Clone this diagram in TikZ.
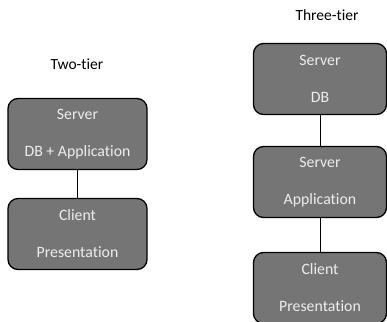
\documentclass[tikz,border=0pt]{standalone}
\usepackage{fontspec}
\setmainfont{Carlito}[Ligatures=CommonOff]
\usepackage{tikz}
\usetikzlibrary{positioning}

\begin{document}
\begin{tikzpicture}
	[x=1pt,y=-1pt,
	tier/.style={draw=black,line width=1.3pt,fill=black!54,rounded corners=10pt,
		text=white!93!black,align=center,inner sep=0pt,
		font=\fontsize{15.8}{37}\selectfont},
	title/.style={font=\fontsize{15.5}{18}\selectfont}]
	\useasboundingbox (0,0) rectangle (387,321);
	\clip (0,0) rectangle (387,321);
	% two-tier
	\node[title] (two) at (77,64) {Two-tier};
	\node[tier,minimum width=139pt,minimum height=71pt] (srv2) at (77.5,134) {Server\\DB + Application};
	\node[tier,minimum width=139pt,minimum height=71pt] (cli2) at (77.5,234) {Client\\Presentation};
	% three-tier
	\node[title] (three) at (327,15) {Three-tier};
	\node[tier,minimum width=133pt,minimum height=71pt] (db3) at (320,79) {Server\\DB};
	\node[tier,minimum width=133pt,minimum height=71pt] (app3) at (320,182) {Server\\Application};
	\node[tier,minimum width=133pt,minimum height=71pt] (cli3) at (320,288) {Client\\Presentation};

	\foreach \from/\to in {srv2/cli2, db3/app3, app3/cli3}
	\draw[line width=0.8pt] (\from) -- (\to);
\end{tikzpicture}
\end{document}
